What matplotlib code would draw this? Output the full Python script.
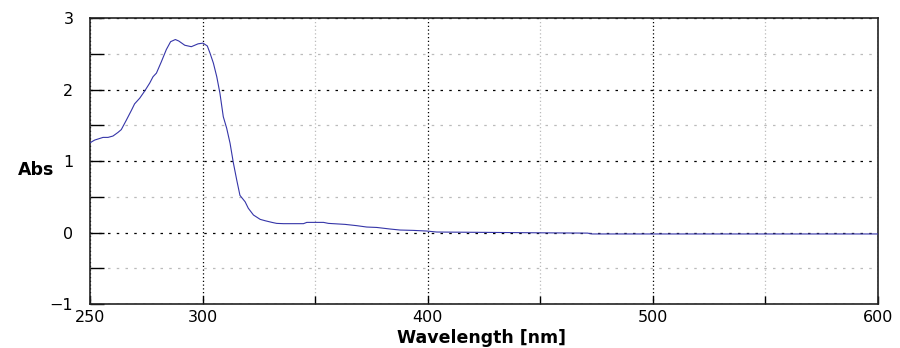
import matplotlib
matplotlib.use("Agg")
import matplotlib.pyplot as plt

# --- data ---
wavelength = [250.0, 252.1, 255.8, 258.0, 260.2, 262.4, 263.9, 266.1, 268.4, 269.8,
              272.1, 274.3, 276.5, 278.0, 279.5, 281.7, 283.9, 285.8, 287.9, 289.4,
              292.1, 295.0, 298.0, 300.2, 302.1, 303.3, 304.8, 306.3, 307.7, 309.2,
              310.7, 312.2, 313.7, 315.2, 316.6, 318.9, 320.3, 322.6, 325.6, 327.8,
              330.8, 332.9, 336.0, 344.8, 346.3, 353.7, 355.9, 363.3, 368.5, 372.9,
              377.4, 383.3, 387.7, 393.6, 399.5, 404.0, 426.2, 450.0, 471.0, 473.0,
              500.0, 550.0, 600.0]
absorbance = [1.256, 1.294, 1.331, 1.331, 1.35, 1.40, 1.44, 1.57, 1.71, 1.80,
              1.88, 1.98, 2.09, 2.18, 2.23, 2.39, 2.56, 2.67, 2.70, 2.68,
              2.62, 2.60, 2.64, 2.65, 2.61, 2.51, 2.37, 2.18, 1.95, 1.62,
              1.46, 1.25, 0.97, 0.73, 0.52, 0.43, 0.34, 0.245, 0.184, 0.165,
              0.142, 0.128, 0.124, 0.124, 0.142, 0.142, 0.128, 0.114, 0.096, 0.077,
              0.071, 0.049, 0.035, 0.030, 0.021, 0.007, 0.002, -0.004, -0.008, -0.02,
              -0.02, -0.02, -0.02]

x_major = [250, 300, 400, 500, 600]
x_minor = [350, 450, 550]
y_major = [-1, 0, 1, 2, 3]
y_minor = [-0.5, 0.5, 1.5, 2.5]

plt.rcParams['font.family'] = ['DejaVu Sans']

fig = plt.figure(figsize=(9, 3.48), dpi=100)
ax = fig.add_axes([0.1, 0.1264, 0.8756, 0.8216])

ax.plot(wavelength, absorbance, color='#3535a8', linewidth=0.8, zorder=3)

ax.set_xlim(250, 600)
ax.set_ylim(-1, 3)
ax.set_xticks(x_major)
ax.set_xticks(x_minor, minor=True)
ax.set_yticks(y_major)
ax.set_yticks(y_minor, minor=True)

# MATLAB-style grid: black dotted majors, light grey minors
ax.grid(True, which='major', axis='x', color='black', linestyle=(0, (1, 2)), linewidth=0.9)
ax.grid(True, which='minor', axis='x', color='#bbbbbb', linestyle=(0, (1, 2)), linewidth=0.9)
ax.grid(True, which='major', axis='y', color='black', linestyle=(0, (2, 5)), linewidth=0.9)
ax.grid(True, which='minor', axis='y', color='#bbbbbb', linestyle=(0, (2, 5)), linewidth=0.9)

ax.tick_params(axis='x', which='both', direction='in', length=6, width=1, pad=4,
               labelsize=11.5, top=False)
ax.tick_params(axis='y', which='both', direction='in', length=10, width=1, pad=12,
               labelsize=11.5, right=False)

for s in ax.spines.values():
    s.set_linewidth(1.2)
    s.set_color('#222222')

fig.text(36 / 900, 1 - 170 / 348, 'Abs', fontsize=12.5, fontweight='bold',
         ha='center', va='center')
fig.text(481 / 900, 1 - 338 / 348, 'Wavelength [nm]', fontsize=12.5, fontweight='bold',
         ha='center', va='center')

fig.savefig('out.png', dpi=100)
